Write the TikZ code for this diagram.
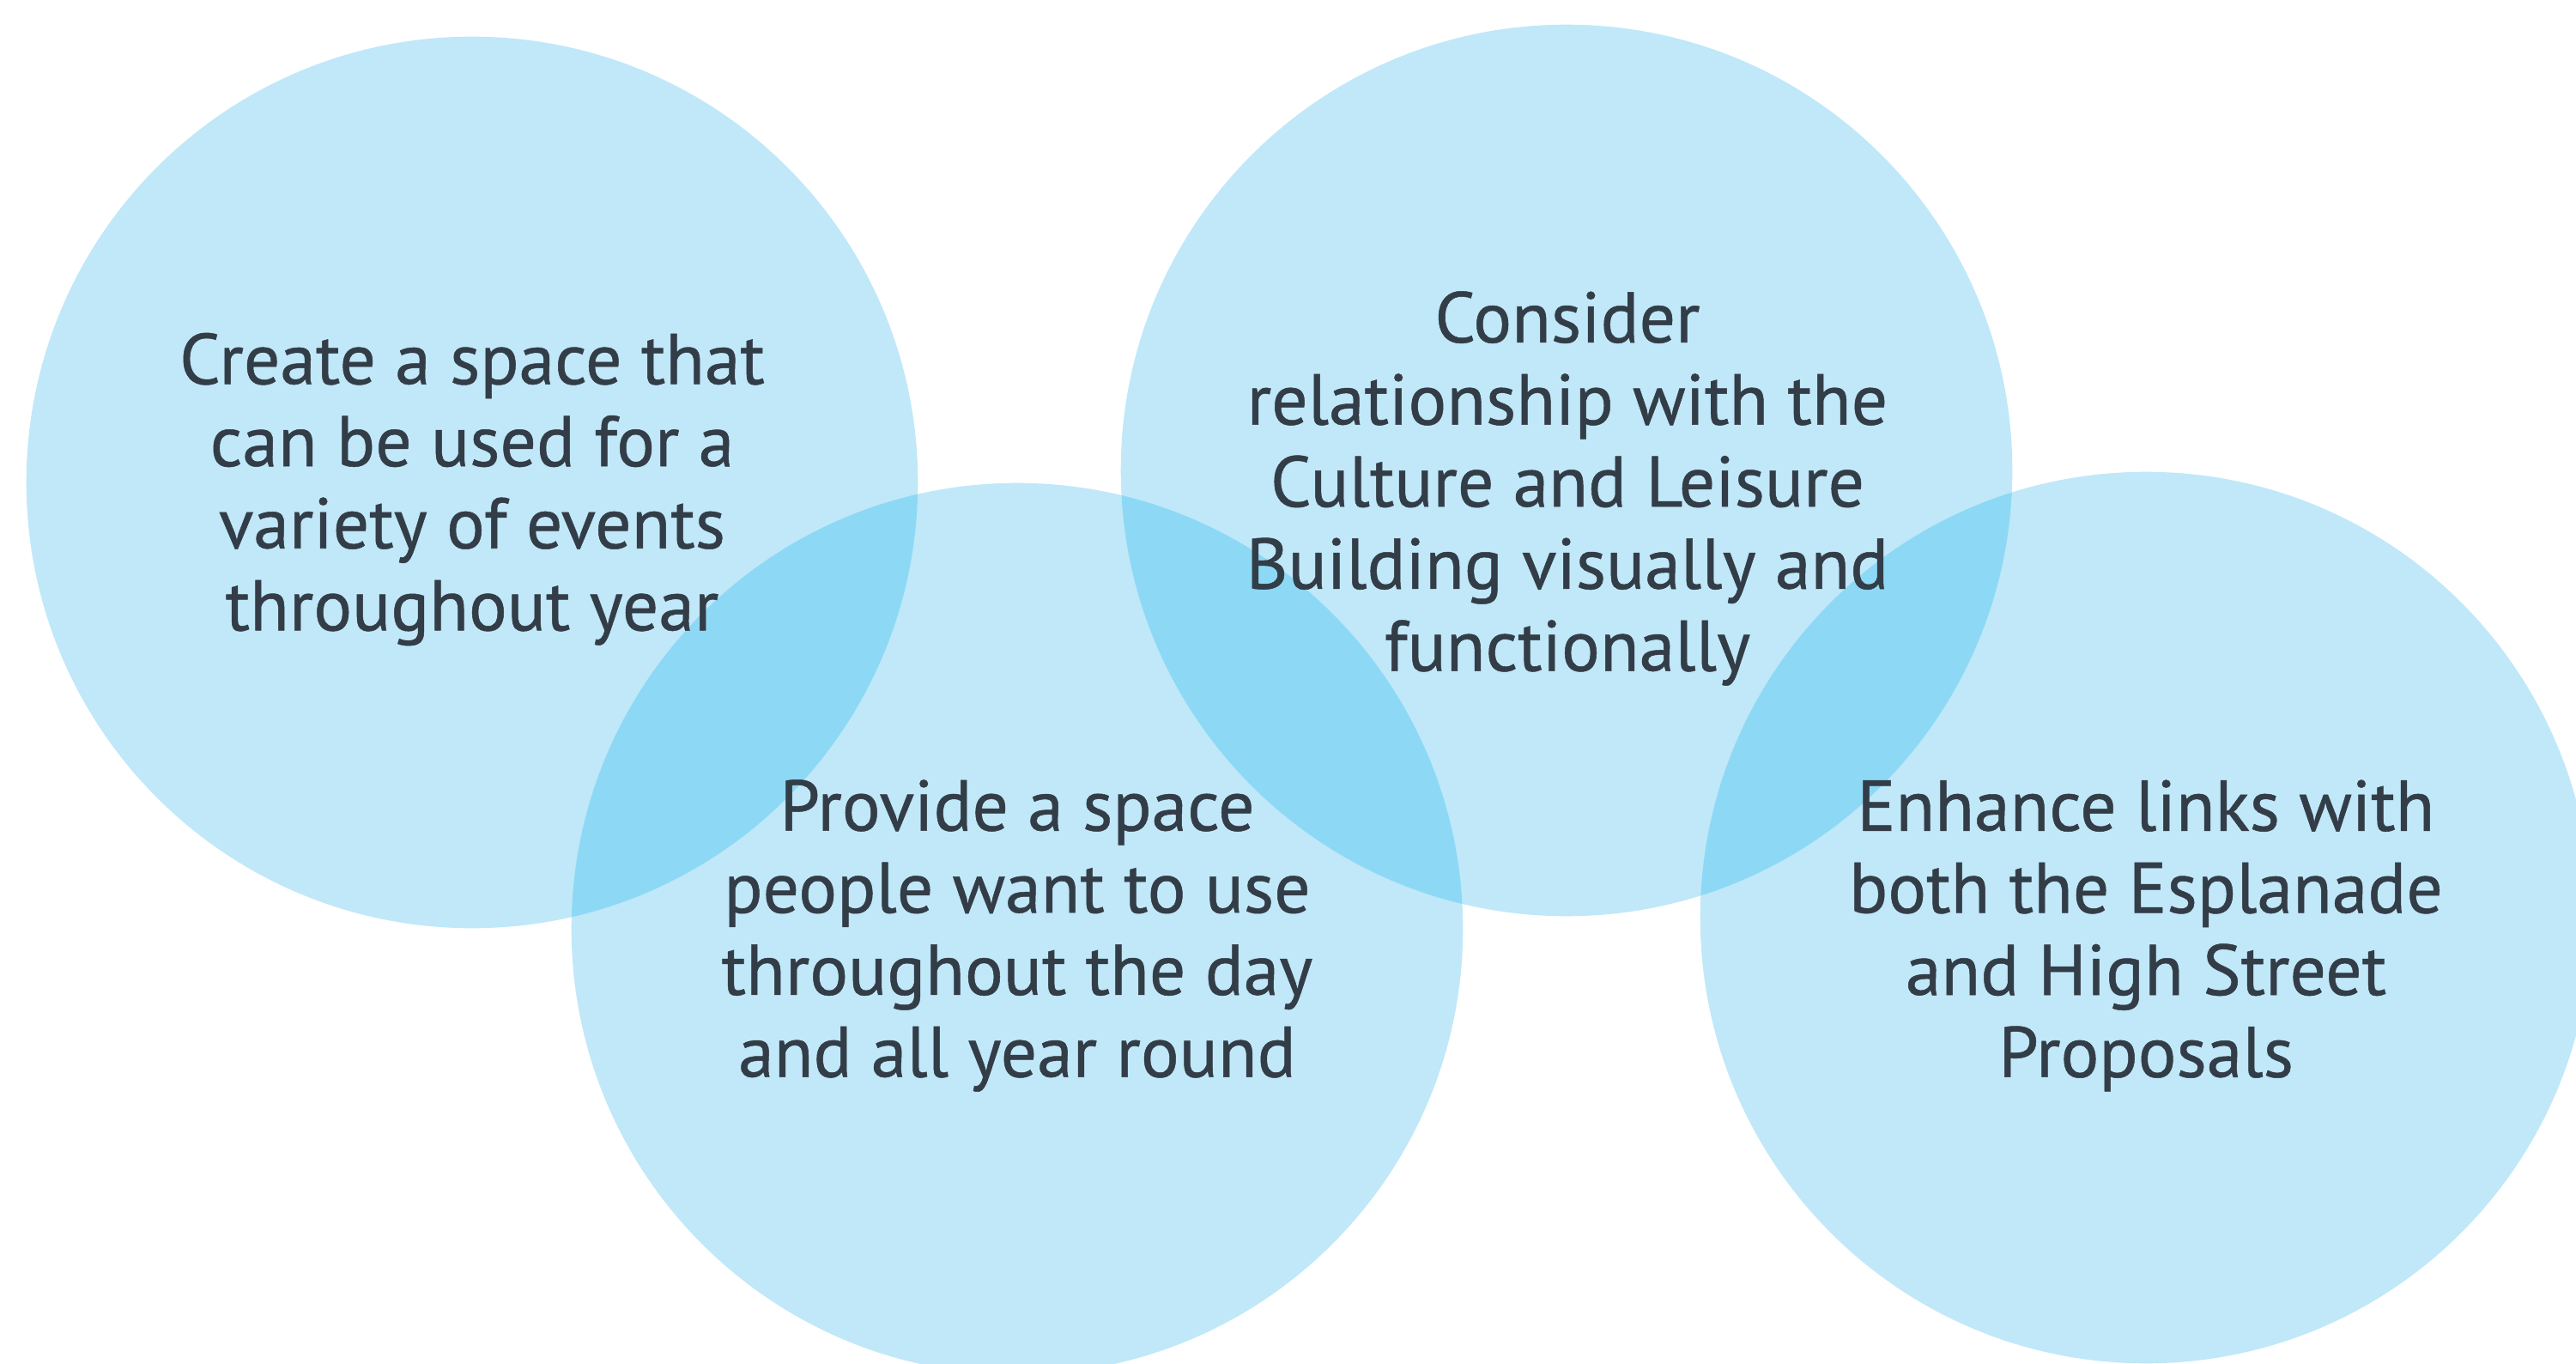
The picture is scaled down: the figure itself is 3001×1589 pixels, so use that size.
\documentclass[tikz,border=0pt]{standalone}
\usepackage{fontspec}
\setmainfont[FakeBold=0.6]{PT Sans}
\definecolor{lightb}{HTML}{C0E8F9}
\definecolor{darkb}{HTML}{8DD9F5}
\definecolor{txt}{HTML}{333D47}
\begin{document}
\begin{tikzpicture}[x=0.01cm,y=-0.01cm,
  goal/.style={text=txt, align=center, font=\fontsize{23.8}{27.2}\selectfont, inner sep=0pt},
  disc/.style={fill=lightb},
  lens/.style={fill=darkb}]
\useasboundingbox (0,0) rectangle (3001,1589);
\coordinate (c1) at (550,562);
\coordinate (c2) at (1185,1082);
\coordinate (c3) at (1825,548);
\coordinate (c4) at (2500,1069);
\fill[disc] (c1) circle[radius=5.19cm];
\fill[disc] (c2) circle[radius=5.19cm];
\fill[disc] (c3) circle[radius=5.19cm];
\fill[disc] (c4) circle[radius=5.19cm];
\begin{scope}
  \clip (c1) circle[radius=5.19cm];
  \fill[lens] (c2) circle[radius=5.19cm];
\end{scope}
\begin{scope}
  \clip (c2) circle[radius=5.19cm];
  \fill[lens] (c3) circle[radius=5.19cm];
\end{scope}
\begin{scope}
  \clip (c3) circle[radius=5.19cm];
  \fill[lens] (c4) circle[radius=5.19cm];
\end{scope}
\node[goal] (t1) at (550,570) {Create a space that\\can be used for a\\variety of events\\throughout year};
\node[goal] (t2) at (1185,1090) {Provide a space\\people want to use\\throughout the day\\and all year round};
\node[goal] (t3) at (1826,569) {Consider\\relationship with the\\Culture and Leisure\\Building visually and\\functionally};
\node[goal] (t4) at (2500,1090) {Enhance links with\\both the Esplanade\\and High Street\\Proposals};
\end{tikzpicture}
\end{document}
